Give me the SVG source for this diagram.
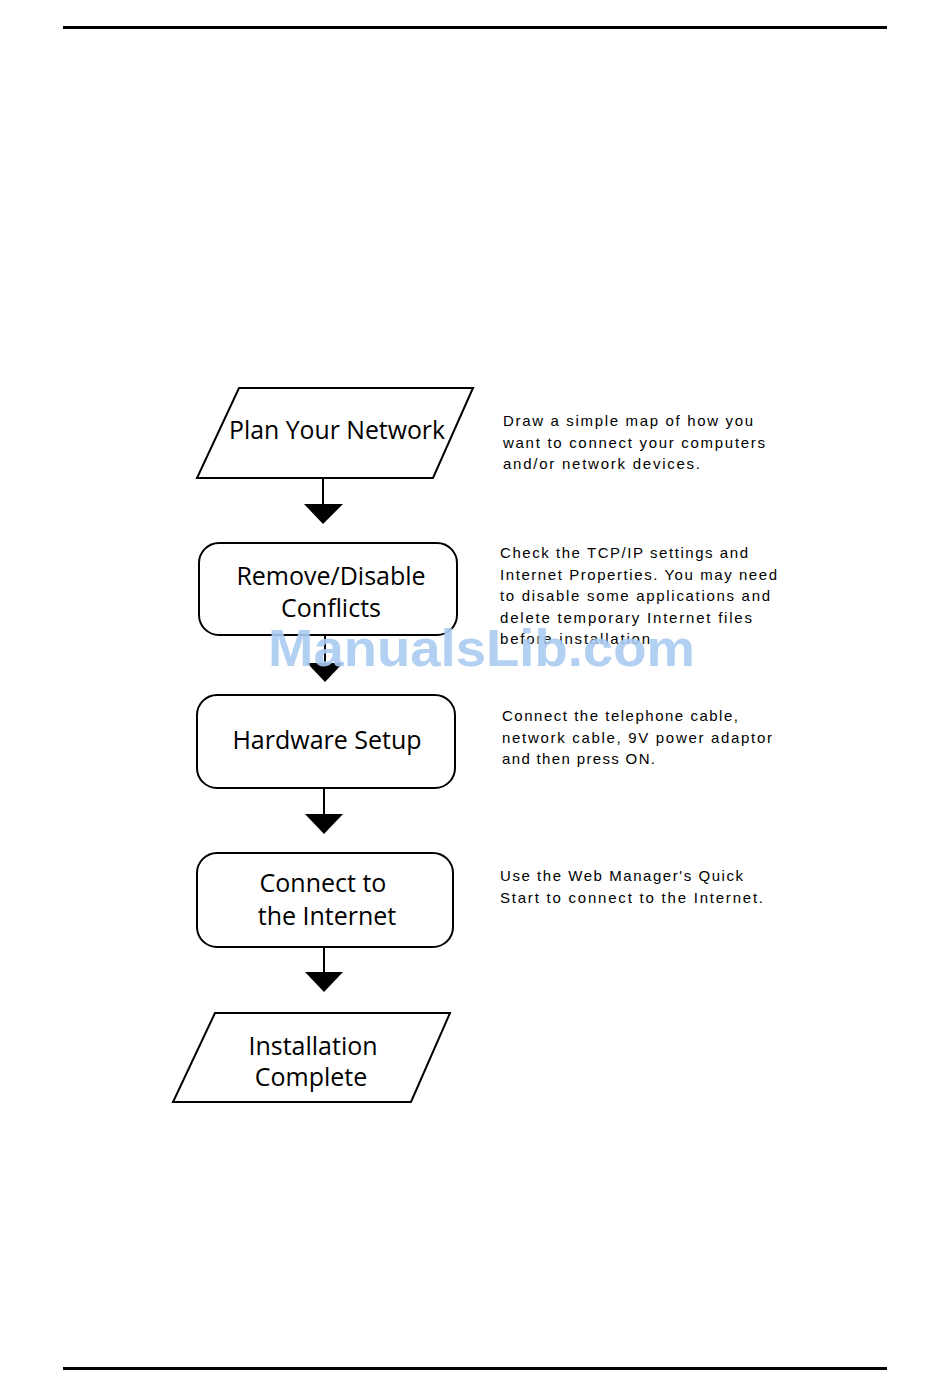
<svg xmlns="http://www.w3.org/2000/svg" width="950" height="1398" viewBox="0 0 950 1398">
<style>
.shape{fill:#fff;stroke:#000;stroke-width:2}
.lbl{font-family:"Open Sans","Liberation Sans",sans-serif;font-size:25px;fill:#000;text-anchor:middle}
.desc{font-family:"Liberation Sans","DejaVu Sans",sans-serif;font-size:15px;fill:#000}
.conn line{stroke:#000;stroke-width:2}
.conn polygon{fill:#000}
.rule{stroke:#000;stroke-width:3}
.wm{font-family:"Liberation Sans",Arial,sans-serif;font-weight:bold;font-size:52px;fill:#aacbf1;fill-opacity:0.9}
</style>
<rect width="950" height="1398" fill="#fff"/>
<line class="rule" x1="63" y1="27.5" x2="887" y2="27.5"/>
<line class="rule" x1="63" y1="1368.5" x2="887" y2="1368.5"/>

<g id="plan">
<polygon class="shape" points="239,388 473,388 433,478 197,478"/>
<text class="lbl" x="337" y="439" textLength="216" lengthAdjust="spacingAndGlyphs">Plan Your Network</text>
</g>
<g id="remove">
<rect class="shape" x="199" y="543" width="258" height="92" rx="20"/>
<text class="lbl" x="331" y="585">Remove/Disable</text>
<text class="lbl" x="331" y="617">Conflicts</text>
</g>
<g id="hardware">
<rect class="shape" x="197" y="695" width="258" height="93" rx="20"/>
<text class="lbl" x="327" y="749">Hardware Setup</text>
</g>
<g id="connect">
<rect class="shape" x="197" y="853" width="256" height="94" rx="20"/>
<text class="lbl" x="323" y="892">Connect to</text>
<text class="lbl" x="327" y="925">the Internet</text>
</g>
<g id="complete">
<polygon class="shape" points="215,1013 450,1013 411,1102 173,1102"/>
<text class="lbl" x="313" y="1055">Installation</text>
<text class="lbl" x="311" y="1086">Complete</text>
</g>

<g id="connectors" class="conn">
<line x1="323" y1="478" x2="323" y2="505"/>
<polygon points="304,504 343,504 323,524"/>
<line x1="325" y1="635" x2="325" y2="664"/>
<polygon points="307,663 343,663 325,682"/>
<line x1="324" y1="788" x2="324" y2="815"/>
<polygon points="305,814 343,814 324,834"/>
<line x1="324" y1="947" x2="324" y2="973"/>
<polygon points="305,972 343,972 324,992"/>
</g>

<g id="desc-plan" class="desc">
<text x="503" y="426" textLength="250" lengthAdjust="spacing">Draw a simple map of how you</text>
<text x="503" y="448" textLength="262" lengthAdjust="spacing">want to connect your computers</text>
<text x="503" y="469" textLength="197" lengthAdjust="spacing">and/or network devices.</text>
</g>
<g id="desc-remove" class="desc">
<text x="500" y="558" textLength="248" lengthAdjust="spacing">Check the TCP/IP settings and</text>
<text x="500" y="580" textLength="277" lengthAdjust="spacing">Internet Properties. You may need</text>
<text x="500" y="601" textLength="270" lengthAdjust="spacing">to disable some applications and</text>
<text x="500" y="623" textLength="252" lengthAdjust="spacing">delete temporary Internet files</text>
<text x="500" y="644" textLength="150" lengthAdjust="spacing">before installation</text>
</g>
<g id="desc-hardware" class="desc">
<text x="502" y="721" textLength="236" lengthAdjust="spacing">Connect the telephone cable,</text>
<text x="502" y="743" textLength="270" lengthAdjust="spacing">network cable, 9V power adaptor</text>
<text x="502" y="764" textLength="153" lengthAdjust="spacing">and then press ON.</text>
</g>
<g id="desc-connect" class="desc">
<text x="500" y="881" textLength="243" lengthAdjust="spacing">Use the Web Manager's Quick</text>
<text x="500" y="903" textLength="263" lengthAdjust="spacing">Start to connect to the Internet.</text>
</g>

<text class="wm" x="268" y="666" textLength="427" lengthAdjust="spacingAndGlyphs">ManualsLib.com</text>
</svg>
